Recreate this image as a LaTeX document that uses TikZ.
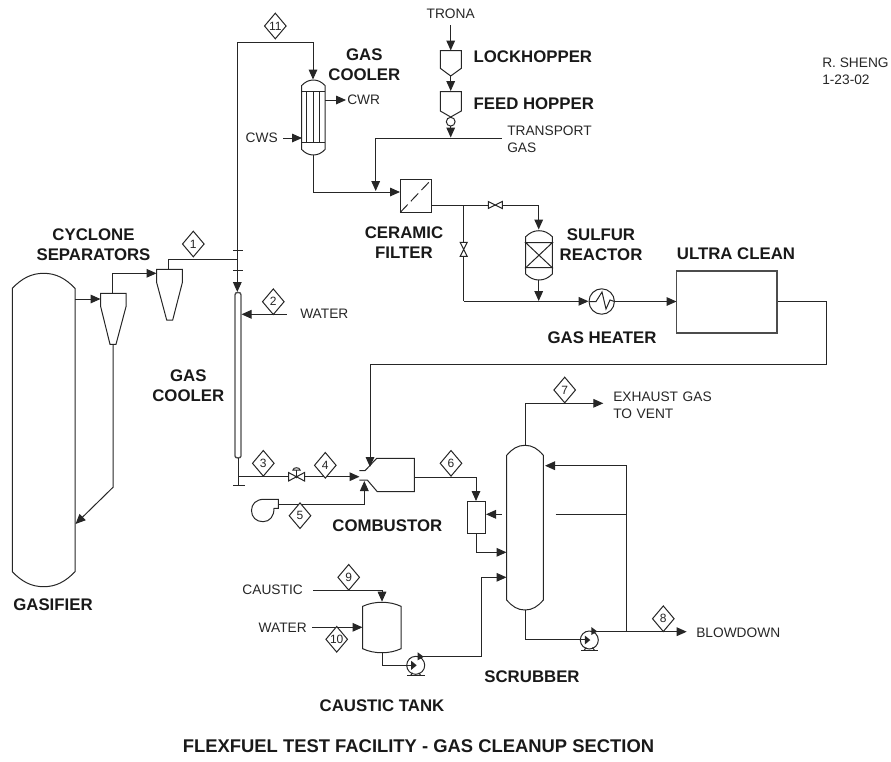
\documentclass[tikz,border=0pt]{standalone}
\usepackage{fontspec}
\setmainfont{Liberation Sans}
\usetikzlibrary{arrows.meta,shapes.geometric}
\tikzset{
 x=0.75pt,y=-0.75pt,
 ln/.style={draw=black!85,line width=0.75pt,line join=miter},
 gl/.style={draw=black!70,line width=1pt,line join=miter},
 ar/.style={ln,-{Triangle[length=7.5pt,width=6.5pt]}},
 tag/.style={diamond,shape aspect=0.85,draw=black!85,line width=0.75pt,inner sep=0pt,minimum width=16.5pt,minimum height=19.5pt,fill=white,font=\fontsize{9}{10}\selectfont,text=black!85},
 lb/.style={font=\fontsize{12.6}{15}\selectfont\bfseries,align=center,inner sep=0pt,text=black!90},
 tx/.style={font=\fontsize{10.3}{12.8}\selectfont,align=left,inner sep=0pt,text=black!85},
}
\newcommand{\vessel}[5]{% x1,x2,ytop,shoulder,ybot
  \draw[ln] (#1,#3+#4) .. controls ({#1+0.15*(#2-#1)},#3+0.35*#4) and ({#1+0.3*(#2-#1)},#3) .. ({0.5*(#1+#2)},#3) .. controls ({#2-0.3*(#2-#1)},#3) and ({#2-0.15*(#2-#1)},#3+0.35*#4) .. (#2,#3+#4) -- (#2,#5-#4) .. controls ({#2-0.15*(#2-#1)},#5-0.35*#4) and ({#2-0.3*(#2-#1)},#5) .. ({0.5*(#1+#2)},#5) .. controls ({#1+0.3*(#2-#1)},#5) and ({#1+0.15*(#2-#1)},#5-0.35*#4) .. (#1,#5-#4) -- cycle;
}
\newcommand{\pump}[2]{% cx, cy
  \draw[ln] (#1,#2) circle (9);
  \draw[ln] (#1-8.5,#2+10) -- (#1+9,#2+10);
  \draw[ln] (#1-5,#2+10) -- (#1-3,#2+7.5);
  \draw[ln] (#1+5,#2+10) -- (#1+3,#2+7.5);
  \fill[black!85] (#1-4.5,#2-4.5) -- (#1+1,#2) -- (#1-4.5,#2+4.5) -- cycle;
  \fill[black!85] (#1+2,#2-13) -- (#1+8,#2-8.5) -- (#1+2,#2-5) -- cycle;
}
\newcommand{\hvalve}[2]{\draw[ln,fill=white] (#1-7,#2-3.5) -- (#1+7,#2+3.5) -- (#1+7,#2-3.5) -- (#1-7,#2+3.5) -- cycle;}
\newcommand{\vvalve}[2]{\draw[ln,fill=white] (#1-3.5,#2-7) -- (#1+3.5,#2+7) -- (#1-3.5,#2+7) -- (#1+3.5,#2-7) -- cycle;}
\begin{document}
\begin{tikzpicture}
\useasboundingbox (0,0) rectangle (891,761);
\coordinate (coolA) at (237.3,292);
\coordinate (topL) at (237.3,42);
\coordinate (topR) at (313,42);
\coordinate (coolIn) at (313,79.5);
\coordinate (cwsS) at (283,138);
\coordinate (cwsE) at (302,138);
\coordinate (cwrS) at (325,100);
\coordinate (cwrE) at (346,100);
\coordinate (filtIn) at (400,192);
\coordinate (tgR) at (501.7,138);
\coordinate (tgL) at (375.7,138);
\coordinate (tgD) at (375.7,191);
% ---- gasifier
\vessel{12.3}{75}{273.3}{15}{586.7}
\draw[ar] (75,299) -- (100.5,299);
% cyclones
\draw[ln] (100.7,293.3) -- (126,293.3) -- (126,306.7) -- (116,344.3) -- (110,344.3) -- (100.7,306.7) -- cycle;
\draw[ln] (156.7,269.3) -- (182.3,269.3) -- (182.3,282.7) -- (172.7,320) -- (166.7,320) -- (156.7,282.7) -- cycle;
\draw[ar] (113,344.3) -- (113,487.3) -- (75.5,524);
\draw[ar] (112.7,293.3) -- (112.7,273.3) -- (156.5,273.3);
\draw[ln] (168.3,269.3) -- (168.3,259.3) -- (237.3,259.3);
\node[tag] (d1) at (193.3,244) {1};
\draw[ln] (233,250) -- (243,250);
\draw[ln] (233,270) -- (243,270);
% main cooler
\draw[ar] (topL) -- (coolA);
\draw[ar] (topL) -- (topR) -- (coolIn);
\node[tag] (d11) at (275.3,26) {11};
\draw[gl] (235,456) -- (235,295) .. controls (235,293) and (236,292.5) .. (238,292.5) .. controls (240,292.5) and (241,293) .. (241,295) -- (241,456) .. controls (241,457) and (240,458) .. (238,458) .. controls (236,458) and (235,457) .. (235,456) -- cycle;
\draw[ar] (286.7,314.3) -- (241.5,314.3);
\node[tag] (d2) at (273.3,301.7) {2};
\node[tx,anchor=west] (twater) at (300,314) {WATER};
\draw[ln] (238,458) -- (238,485);
\draw[ln] (233,485) -- (245,485);
\draw[ar] (238,476.7) -- (359.5,476.7);
\node[tag] (d3) at (263.3,463.3) {3};
\node[tag] (d4) at (325.3,465.3) {4};
\draw[ln,fill=white] (288.5,472.5) -- (304.5,481) -- (304.5,472.5) -- (288.5,481) -- cycle;
\fill[black!85] (296.5,476.7) circle (1.6);
\draw[ln] (296.5,476.7) -- (296.5,470);
\draw[ln] (293,470) .. controls (293,467) and (300,467) .. (300,470) -- cycle;
% blower
\draw[ln] (278.3,499.3) -- (264,499.3) .. controls (256,499.3) and (251.5,504) .. (251.5,510.5) .. controls (251.5,517) and (256,521.7) .. (263,521.7) .. controls (270,521.7) and (274,516) .. (274,508.3) -- (278.3,508.3) -- cycle;
\draw[ar] (278.3,504) -- (364.3,504) -- (364.3,481);
\node[tag] (d5) at (300,515.7) {5};
% combustor
\draw[ln] (359.3,470.7) -- (365,470.7) -- (376.7,458.3) -- (414.3,458.3) -- (414.3,491.7) -- (377.3,491.7) -- (367.3,480) -- (359.3,480);
\draw[ar] (777,301) -- (826,301) -- (826,364) -- (370,364) -- (370,467);
\draw[ar] (414.3,477.3) -- (476,477.3) -- (476,501);
\node[tag] (d6) at (451,463.3) {6};
\draw[ln] (467.3,501.3) rectangle (485.7,533.7);
\draw[ar] (501.7,514.3) -- (486,514.3);
\draw[ar] (476.7,533.7) -- (476.7,552.3) -- (506.5,552.3);
% scrubber
\vessel{506.7}{543.3}{445.3}{10}{610}
\draw[ar] (525.7,445.3) -- (525.7,403.3) -- (603.3,403.3);
\node[tag] (d7) at (564.7,390) {7};
\draw[ar] (626,631.7) -- (626,465.7) -- (545,465.7);
\draw[ln] (555.7,514.3) -- (626,514.3);
\pump{589.3}{640}
\draw[ln] (525.7,610) -- (525.7,639.3) -- (585,639.3);
\draw[ar] (592,631.7) -- (686.7,631.7);
\node[tag] (d8) at (663.3,618.7) {8};
\node[tx,anchor=west] (tblow) at (696,633) {BLOWDOWN};
\node[tx,anchor=west,text width=100pt] (texh) at (613,405.5) {EXHAUST GAS\\TO VENT};
% caustic tank
\vessel{362.7}{401}{602.3}{4}{652.7}
\draw[ar] (313.3,590.7) -- (382,590.7) -- (382,601.7);
\node[tag] (d9) at (348.7,577.3) {9};
\draw[ar] (312.3,627.3) -- (362.5,627.3);
\node[tag] (d10) at (336.7,639.3) {10};
\node[tx,anchor=east] (tcau) at (303,590) {CAUSTIC};
\node[tx,anchor=east] (twat2) at (307,628) {WATER};
\pump{415.7}{665.3}
\draw[ln] (382.7,652.7) -- (382.7,665) -- (411,665);
\draw[ar] (418,656.7) -- (481.7,656.7) -- (481.7,577.3) -- (506.5,577.3);
% top exchanger
\vessel{301.7}{325}{80}{5.5}{155}
\draw[ln] (301.7,91.7) -- (325,91.7) (301.7,142.7) -- (325,142.7);
\draw[ln] (306.7,91.7) -- (306.7,142.7) (313.3,91.7) -- (313.3,142.7) (319.3,91.7) -- (319.3,142.7);
\draw[ar] (cwrS) -- (cwrE);
\draw[ar] (cwsS) -- (cwsE);
\node[tx,anchor=west] (tcwr) at (347,100) {CWR};
\node[tx,anchor=east] (tcws) at (278,138) {CWS};
\draw[ar] (313,155) -- (313,192) -- (filtIn);
\draw[ln] (tgR) -- (tgL);
\draw[ar] (tgL) -- (tgD);
\node[tx,anchor=west,text width=100pt] (ttg) at (507,139.5) {TRANSPORT\\GAS};
% hoppers
\node[tx] (ttrona) at (450.7,14) {TRONA};
\draw[ar] (450.7,25) -- (450.7,50.5);
\draw[ln] (440.3,50.7) -- (461.3,50.7) -- (461.3,68.3) -- (450.7,76) -- (440.3,68.3) -- cycle;
\draw[ar] (450.7,76) -- (450.7,91);
\draw[ln] (440.3,91.7) -- (461.3,91.7) -- (461.3,111) -- (450.7,117) -- (440.3,111) -- cycle;
\draw[ln] (450.7,121.7) circle (4.4);
\draw[ar] (450.7,126) -- (450.7,137.5);
% filter
\draw[ln] (400.3,179.3) rectangle (431.7,212.3);
\draw[ln,dash pattern=on 8pt off 3.5pt] (400.3,212.3) -- (431.7,179.3);
\draw[ar] (431.7,205) -- (538.7,205) -- (538.7,229.5);
\hvalve{495.3}{205}
\draw[ln] (463.7,205) -- (463.7,301.3);
\vvalve{463.7}{249.3}
\draw[ar] (463.7,301.3) -- (588.5,301.3);
% reactor
\vessel{525.7}{552.3}{230.7}{6}{280}
\draw[ln] (525.7,242.7) -- (552.3,242.7) -- (525.7,267.7) -- (552.3,267.7) -- cycle;
\draw[ar] (538.7,280) -- (538.7,301);
% heater
\draw[ln] (601.7,301.5) circle (12.7);
\draw[ln] (589,301.5) -- (596,301.5) -- (602,292) -- (606,309) -- (610,300) -- (614.4,301.5);
\draw[ar] (614.4,301.5) -- (676.5,301.5);
\draw[gl] (676.7,271) rectangle (777,333);
% labels
\node[lb] (l1) at (93.5,245) {CYCLONE\\SEPARATORS};
\node[lb] (l2) at (188.3,386) {GAS\\COOLER};
\node[lb] (l3) at (364.3,65) {GAS\\COOLER};
\node[lb,anchor=west] (l4) at (473.3,57) {LOCKHOPPER};
\node[lb,anchor=west] (l5) at (473.3,104) {FEED HOPPER};
\node[lb] (l6) at (404,243) {CERAMIC\\FILTER};
\node[lb] (l7) at (601,245) {SULFUR\\REACTOR};
\node[lb] (l8) at (736,253.5) {ULTRA CLEAN};
\node[lb] (l9) at (602,338) {GAS HEATER};
\node[lb] (l10) at (387.3,526) {COMBUSTOR};
\node[lb] (l11) at (53,605) {GASIFIER};
\node[lb] (l12) at (532,676.5) {SCRUBBER};
\node[lb] (l13) at (382,706) {CAUSTIC TANK};
\node[lb,font=\fontsize{13.8}{15}\selectfont\bfseries] (l14) at (418.5,746) {FLEXFUEL TEST FACILITY - GAS CLEANUP SECTION};
\node[tx,anchor=west] (tsh) at (822,71) {R. SHENG\\1-23-02};
\end{tikzpicture}
\end{document}
